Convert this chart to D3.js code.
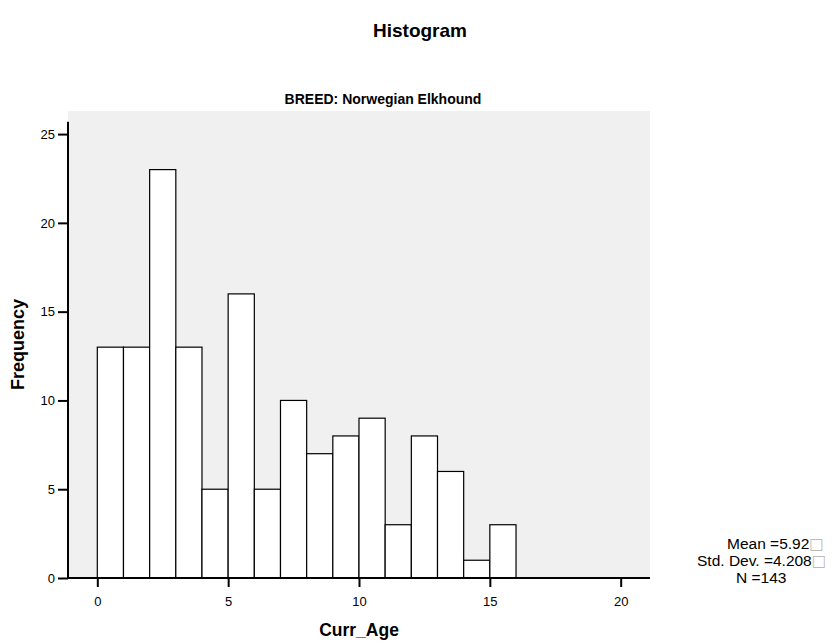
<!DOCTYPE html>
<html>
<head>
<meta charset="utf-8">
<script src="https://cdn.jsdelivr.net/npm/d3@7"></script>
<style>
  body { margin: 0; background: #ffffff; }
  svg { display: block; }
  text { font-family: "Liberation Sans", Arial, Helvetica, sans-serif; fill: #000; }
</style>
</head>
<body>
<svg id="chart" width="838" height="641"></svg>
<script>
// ---- data ----
const binStarts = [0, 1, 2, 3, 4, 5, 6, 7, 8, 9, 10, 11, 12, 13, 14, 15];
const binWidth = 1;
const frequencies = [13, 13, 23, 13, 5, 16, 5, 10, 7, 8, 9, 3, 8, 6, 1, 3];
const xTicks = [0, 5, 10, 15, 20];
const yTicks = [0, 5, 10, 15, 20, 25];
const chartTitle = "Histogram";
const panelTitle = "BREED: Norwegian Elkhound";
const xLabel = "Curr_Age";
const yLabel = "Frequency";
const statLabels = ["Mean =5.92", "Std. Dev. =4.208", "N =143"];
const statHasBox = [true, true, false];

// ---- layout ----
const plot = { left: 68, right: 650, top: 111, bottom: 578 };
const xDomain = [-1.12, 21.12];
const yDomain = [0, 26.3];
const yAxisTopValue = 25.7;

const svg = d3.select("#chart");
const x = d3.scaleLinear().domain(xDomain).range([plot.left, plot.right]);
const y = d3.scaleLinear().domain(yDomain).range([plot.bottom, plot.top]);

// background panel
svg.append("rect")
  .attr("x", plot.left).attr("y", plot.top)
  .attr("width", plot.right - plot.left).attr("height", plot.bottom - plot.top)
  .attr("fill", "#f0f0f0");

// bars
svg.append("g").selectAll("rect")
  .data(binStarts.map((s, i) => ({ s, f: frequencies[i] })))
  .join("rect")
  .attr("x", d => x(d.s))
  .attr("y", d => y(d.f))
  .attr("width", d => x(d.s + binWidth) - x(d.s))
  .attr("height", d => y(0) - y(d.f))
  .attr("fill", "#ffffff")
  .attr("stroke", "#000")
  .attr("stroke-width", 1.2);

// y axis
const yAxis = svg.append("g")
  .attr("transform", `translate(${plot.left},0)`)
  .call(d3.axisLeft(y).tickValues(yTicks).tickSize(10).tickSizeOuter(0).tickPadding(3));
yAxis.select(".domain").remove();
yAxis.selectAll(".tick line").attr("stroke", "#000").attr("stroke-width", 2);
yAxis.selectAll(".tick text").attr("font-size", 13).attr("font-family", "Liberation Sans, Arial, sans-serif");
svg.append("line")
  .attr("x1", plot.left).attr("x2", plot.left)
  .attr("y1", y(0)).attr("y2", y(yAxisTopValue))
  .attr("stroke", "#000").attr("stroke-width", 2);

// x axis
const xAxis = svg.append("g")
  .attr("transform", `translate(0,${plot.bottom})`)
  .call(d3.axisBottom(x).tickValues(xTicks).tickSize(9).tickSizeOuter(0).tickPadding(10));
xAxis.select(".domain").remove();
xAxis.selectAll(".tick line").attr("stroke", "#000").attr("stroke-width", 2);
xAxis.selectAll(".tick text").attr("font-size", 13).attr("font-family", "Liberation Sans, Arial, sans-serif");
svg.append("line")
  .attr("x1", plot.left - 1).attr("x2", plot.right)
  .attr("y1", plot.bottom).attr("y2", plot.bottom)
  .attr("stroke", "#000").attr("stroke-width", 2);

// titles
svg.append("text").attr("x", 420).attr("y", 37)
  .attr("text-anchor", "middle").attr("font-size", 19).attr("font-weight", "bold")
  .text(chartTitle);
svg.append("text").attr("x", 383).attr("y", 104)
  .attr("text-anchor", "middle").attr("font-size", 14).attr("font-weight", "bold")
  .text(panelTitle);
svg.append("text").attr("x", (plot.left + plot.right) / 2).attr("y", 636)
  .attr("text-anchor", "middle").attr("font-size", 17.5).attr("font-weight", "bold")
  .text(xLabel);
svg.append("text")
  .attr("transform", `translate(24,${(plot.top + plot.bottom) / 2}) rotate(-90)`)
  .attr("text-anchor", "middle").attr("font-size", 18).attr("font-weight", "bold")
  .text(yLabel);

// statistics box
const statX = [727, 697, 736];
const stats = svg.append("g");
statLabels.forEach((s, i) => {
  const t = stats.append("text")
    .attr("x", statX[i])
    .attr("y", 549 + i * 17)
    .attr("text-anchor", "start")
    .attr("font-size", 15.5);
  t.append("tspan").text(s);
  if (statHasBox[i]) {
    t.append("tspan").attr("font-family", "DejaVu Sans").attr("fill", "#bbbbbb").text("\u25A1");
  }
});
</script>
</body>
</html>
